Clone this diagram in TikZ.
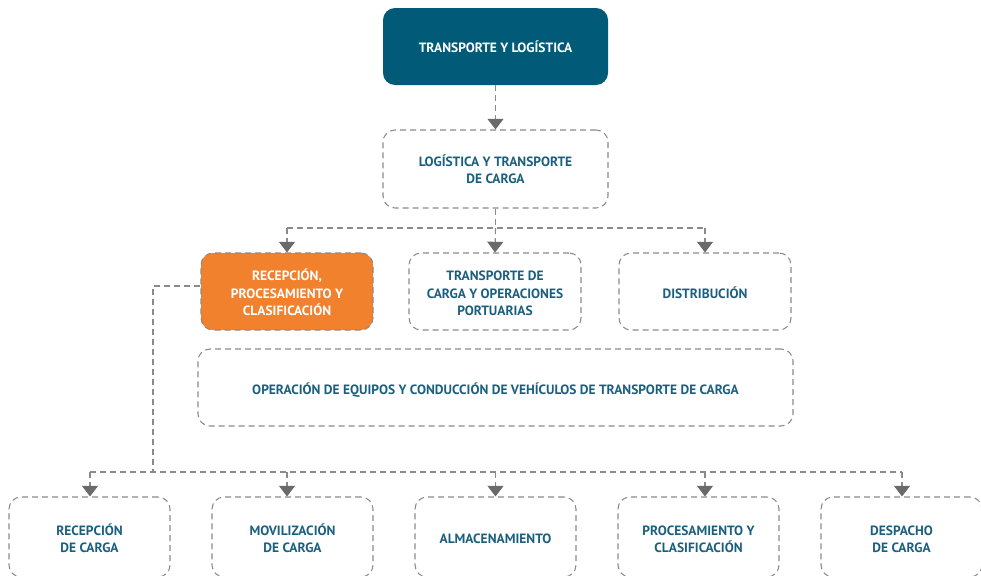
\documentclass[tikz,border=0pt]{standalone}
\usepackage{fontspec}
\setmainfont{PT Sans}
\usetikzlibrary{arrows.meta}
\definecolor{teal}{HTML}{005A78}
\definecolor{txt}{HTML}{1B5F7E}
\definecolor{orng}{HTML}{F2812E}
\definecolor{dash}{HTML}{8A8A8A}
\definecolor{arr}{HTML}{6A6A6A}
\newcommand\lowtext[1]{\raisebox{-2.4pt}[\height][\depth]{\begin{tabular}{@{}c@{}}#1\end{tabular}}}
\tikzset{
  px/.style={x=0.75pt,y=-0.75pt},
  boxbase/.style={rounded corners=9pt, align=center, font=\bfseries\fontsize{10.1}{13}\selectfont, inner sep=0pt},
  dbox/.style={boxbase, draw=dash, line width=0.8pt, dash pattern=on 4.5pt off 3pt, text=txt},
  topbox/.style={boxbase, fill=teal, text=white},
  obox/.style={dbox, fill=orng, text=white},
  conn/.style={draw=dash, line width=0.8pt, dash pattern=on 4.5pt off 3pt},
  arrowc/.style={conn, -{Triangle[width=12pt,length=8pt,fill=arr,color=arr,sep=0pt]}},
}
\begin{document}
\begin{tikzpicture}[px]
\useasboundingbox (0,0) rectangle (981,575);
% nodes
\node[topbox, minimum width=168.75pt, minimum height=57.75pt] (top) at (495.5,46.5) {TRANSPORTE Y LOGÍSTICA};
\node[dbox, minimum width=168.75pt, minimum height=58.5pt] (l2) at (495.5,169) {LOGÍSTICA Y TRANSPORTE\\DE CARGA};
\node[obox, minimum width=129pt, minimum height=57.75pt] (r1) at (287,291.5) {\lowtext{RECEPCIÓN,\\PROCESAMIENTO Y\\CLASIFICACIÓN}};
\node[dbox, minimum width=129pt, minimum height=57.75pt] (r2) at (495,291.5) {\lowtext{TRANSPORTE DE\\CARGA Y OPERACIONES\\PORTUARIAS}};
\node[dbox, minimum width=129pt, minimum height=57.75pt] (r3) at (705,291.5) {\lowtext{DISTRIBUCIÓN}};
\node[dbox, minimum width=446.25pt, minimum height=57.75pt] (wide) at (495.5,387.5) {\lowtext{OPERACIÓN DE EQUIPOS Y CONDUCCIÓN DE VEHÍCULOS DE TRANSPORTE DE CARGA}};
\node[dbox, minimum width=120.75pt, minimum height=60pt] (b1) at (89.5,537) {\lowtext{RECEPCIÓN\\DE CARGA}};
\node[dbox, minimum width=120.75pt, minimum height=60pt] (b2) at (292.5,537) {\lowtext{MOVILIZACIÓN\\DE CARGA}};
\node[dbox, minimum width=120.75pt, minimum height=60pt] (b3) at (495.5,537) {\lowtext{ALMACENAMIENTO}};
\node[dbox, minimum width=120.75pt, minimum height=60pt] (b4) at (698.5,537) {\lowtext{PROCESAMIENTO Y\\CLASIFICACIÓN}};
\node[dbox, minimum width=120.75pt, minimum height=60pt] (b5) at (901.5,537) {\lowtext{DESPACHO\\DE CARGA}};
% junction coordinates
\coordinate (j1) at (495.5,228);
\coordinate (j1a) at (287,228);
\coordinate (j1c) at (705,228);
\coordinate (k0) at (153,286);
\coordinate (k1) at (153,472);
\coordinate (ka) at (90,472);
\coordinate (kb) at (287,472);
\coordinate (kc) at (495.5,472);
\coordinate (kd) at (705,472);
\coordinate (ke) at (902,472);
% connectors
\draw[arrowc] (top.south) -- (l2.north);
\draw[conn] (l2.south) -- (j1);
\draw[conn] (j1a) -- (j1c);
\draw[arrowc] (j1a) -- (r1.north);
\draw[arrowc] (j1) -- (r2.north);
\draw[arrowc] (j1c) -- (r3.north);
\draw[conn] (r1.west |- k0) -- (k0) -- (k1);
\draw[conn] (ka) -- (ke);
\draw[arrowc] (ka) -- (ka |- b1.north);
\draw[arrowc] (kb) -- (kb |- b2.north);
\draw[arrowc] (kc) -- (kc |- b3.north);
\draw[arrowc] (kd) -- (kd |- b4.north);
\draw[arrowc] (ke) -- (ke |- b5.north);
\end{tikzpicture}
\end{document}
